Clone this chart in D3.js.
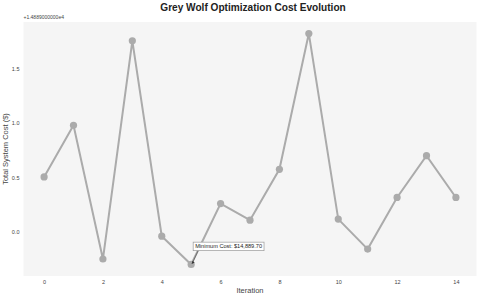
<!DOCTYPE html>
<html><head><meta charset="utf-8">
<script src="https://cdn.jsdelivr.net/npm/d3@7"></script>
<style>body{margin:0;background:#fff}svg{display:block;font-family:"Liberation Sans",Arial,sans-serif}</style>
</head><body><svg id="c" width="480" height="299"></svg>
<script>
const iterations = [0,1,2,3,4,5,6,7,8,9,10,11,12,13,14];
const costs = [0.505,0.98,-0.25,1.756,-0.04,-0.30,0.26,0.107,0.575,1.823,0.117,-0.159,0.316,0.70,0.316];
const xTicks = [0,2,4,6,8,10,12,14];
const yTicks = [0.0,0.5,1.0,1.5];
const offsetText = "+1.4889000000e4";
const minLabel = "Minimum Cost: $14,889.70";

const svg = d3.select("#c");
const L=23.5,R=476.5,T=22,B=276;
const x = d3.scaleLinear().domain([-0.7,14.7]).range([L,R]);
const ymin=d3.min(costs), ymax=d3.max(costs), pad=(ymax-ymin)*0.05;
const y = d3.scaleLinear().domain([ymin-pad,ymax+pad]).range([B,T]);

svg.append("rect").attr("x",L).attr("y",T).attr("width",R-L).attr("height",B-T).attr("fill","#f5f5f5");

const xa = svg.append("g").attr("transform",`translate(0,${B})`)
  .call(d3.axisBottom(x).tickValues(xTicks).tickFormat(d3.format("d")).tickSize(0).tickPadding(4));
const ya = svg.append("g").attr("transform",`translate(${L},0)`)
  .call(d3.axisLeft(y).tickValues(yTicks).tickFormat(d3.format(".1f")).tickSize(0).tickPadding(4));
[xa,ya].forEach(a=>{a.select(".domain").remove();a.selectAll("text").attr("font-size",5.5).attr("fill","#444").attr("font-family","'Liberation Sans',Arial,sans-serif");});

svg.append("text").attr("x",L).attr("y",T-3).attr("font-size",5).attr("fill","#444").text(offsetText);

const line = d3.line().x((d,i)=>x(iterations[i])).y(d=>y(d));
svg.append("path").datum(costs).attr("d",line).attr("fill","none").attr("stroke","#ababab").attr("stroke-width",2);
svg.selectAll("circle.pt").data(costs).join("circle").attr("class","pt")
  .attr("cx",(d,i)=>x(iterations[i])).attr("cy",d=>y(d)).attr("r",3.6).attr("fill","#ababab");

// annotation
const mi = costs.indexOf(ymin);
const px=x(iterations[mi]), py=y(ymin);
const bx=px+2, by=py-22.3;
svg.append("line").attr("x1",bx+5).attr("y1",by+8.5).attr("x2",px+1.2).attr("y2",py-1.5).attr("stroke","#555").attr("stroke-width",0.7);
svg.append("path").attr("d",`M${px+0.4},${py-0.4} l1.0,-3.2 l2.0,1.8 z`).attr("fill","#333");
const box = svg.append("rect");
const t = svg.append("text").attr("x",bx+2).attr("y",by+6.3).attr("font-size",5.6).attr("fill","#222").text(minLabel);
const w = t.node().getComputedTextLength();
box.attr("x",bx).attr("y",by).attr("width",w+4).attr("height",8.5).attr("fill","#fff").attr("stroke","#999").attr("stroke-width",0.7);

svg.append("text").attr("x",253).attr("y",11).attr("text-anchor","middle").attr("font-size",10.1).attr("font-weight","bold").attr("fill","#222").text("Grey Wolf Optimization Cost Evolution");
svg.append("text").attr("x",250).attr("y",293).attr("text-anchor","middle").attr("font-size",7.5).attr("fill","#444").text("Iteration");
svg.append("text").attr("transform","translate(8,149) rotate(-90)").attr("text-anchor","middle").attr("font-size",7.5).attr("fill","#444").text("Total System Cost ($)");
</script></body></html>
